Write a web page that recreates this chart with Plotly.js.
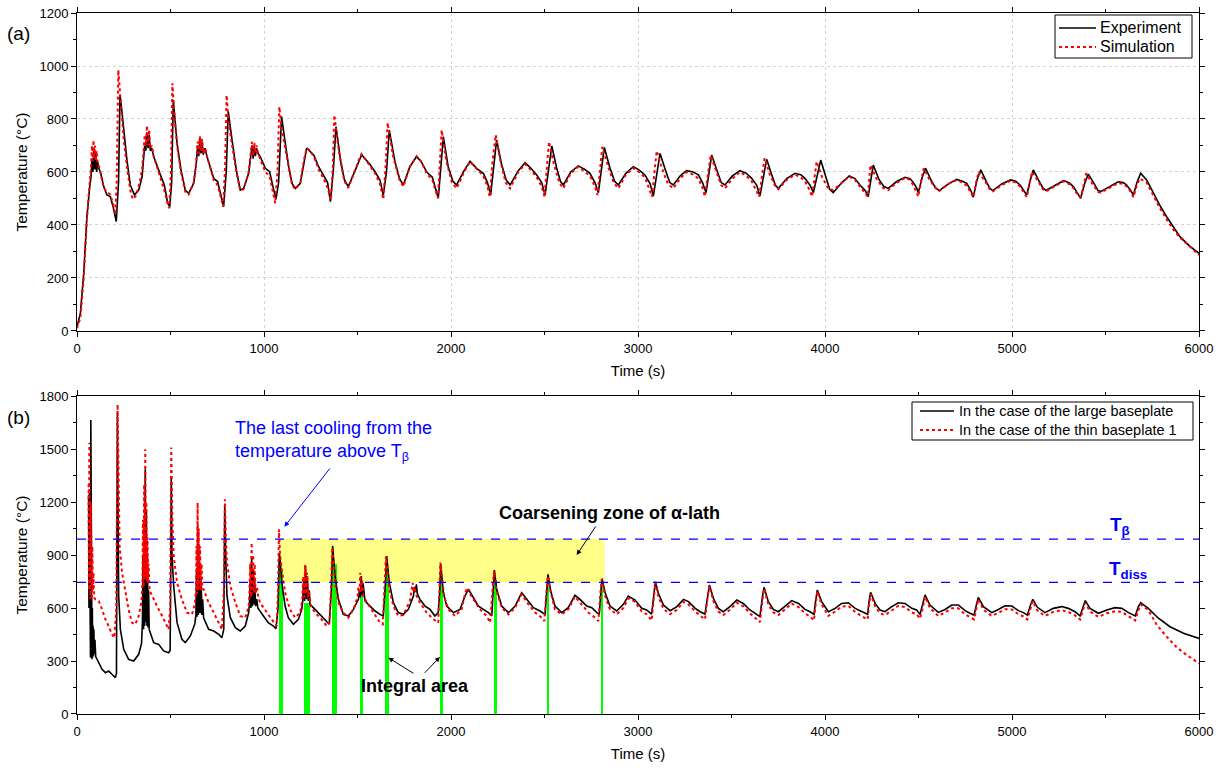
<!DOCTYPE html>
<html>
<head>
<meta charset="utf-8">
<script src="https://cdn.plot.ly/plotly-3.0.1.min.js"></script>
<style>html,body{margin:0;padding:0;background:#fff;}#chart{width:1225px;height:769px;}</style>
</head>
<body>
<div id="chart"></div>
<script>
// Panel (a): [time (s), temperature (°C)]
const expA = [[0,16],[18,67],[36,218],[53,431],[68,545],[75,582],
[80,650],[85,600],[90,690],[95,610],[100,670],[105,600],[110,640],[118,610],[125,601],
[143,545],[160,513],[178,507],[193,469],[210,413],[222,560],[230,891],[240,830],[250,758],[267,645],[285,551],[307,513],[330,532],[348,582],
[356,650],[362,700],[368,680],[374,750],[380,690],[386,740],[392,680],[400,690],[410,658],[428,620],[446,589],[467,551],[485,482],[496,469],[506,560],[515,872],[525,800],[535,708],[556,608],[579,532],[597,519],[624,557],[638,633],
[645,700],[651,660],[657,725],[663,670],[669,715],[675,665],[685,690],[695,658],[713,620],[731,576],[752,564],[770,507],[784,469],[798,600],[809,828],[829,721],[852,608],[873,532],[891,538],[918,595],
[930,660],[936,700],[942,650],[948,700],[954,660],[960,690],[968,670],[980,658],[1007,614],[1030,601],[1048,545],[1064,498],[1078,560],[1094,809],[1109,733],[1132,620],[1150,557],[1168,538],[1194,557],[1215,640],[1228,690],[1239,683],[1266,664],[1292,620],[1319,589],[1340,560],[1355,488],[1370,600],[1385,771],[1410,640],[1430,570],[1451,545],[1490,610],[1515,655],[1522,665],[1540,650],[1565,630],[1594,601],[1620,570],[1638,513],[1655,600],[1670,758],[1700,640],[1725,575],[1745,551],[1780,620],[1816,658],[1840,640],[1870,600],[1900,580],[1932,501],[1946,620],[1959,733],[1985,620],[2010,565],[2030,551],[2070,605],[2102,640],[2140,612],[2173,595],[2195,560],[2212,513],[2228,620],[2244,721],[2270,630],[2295,570],[2316,551],[2360,605],[2396,635],[2430,612],[2458,589],[2485,560],[2503,513],[2520,610],[2539,698],[2565,615],[2585,565],[2601,551],[2640,600],[2681,623],[2715,610],[2743,595],[2770,560],[2788,522],[2805,610],[2820,693],[2850,615],[2875,565],[2895,551],[2935,595],[2975,620],[3005,608],[3037,589],[3065,555],[3082,509],[3100,590],[3118,670],[3150,600],[3170,560],[3189,551],[3225,585],[3260,605],[3295,600],[3323,589],[3345,560],[3364,522],[3380,590],[3394,664],[3425,600],[3445,560],[3465,551],[3505,585],[3545,605],[3580,595],[3608,576],[3635,550],[3652,509],[3670,580],[3688,648],[3715,590],[3735,550],[3750,538],[3795,575],[3840,595],[3870,590],[3893,576],[3920,550],[3938,522],[3958,590],[3977,645],[4005,580],[4025,535],[4044,522],[4090,560],[4130,585],[4160,575],[4187,551],[4215,530],[4231,507],[4245,570],[4258,626],[4290,570],[4315,545],[4338,538],[4385,565],[4428,580],[4455,575],[4472,560],[4490,540],[4499,522],[4520,580],[4538,614],[4570,565],[4592,540],[4611,530],[4660,555],[4704,572],[4735,565],[4758,557],[4780,530],[4793,505],[4813,570],[4833,608],[4865,560],[4882,538],[4897,530],[4945,555],[4993,570],[5020,565],[5043,551],[5065,530],[5079,513],[5098,570],[5114,608],[5145,565],[5165,540],[5182,530],[5230,550],[5275,567],[5305,560],[5328,545],[5350,520],[5367,501],[5390,560],[5408,592],[5440,555],[5460,530],[5474,526],[5520,545],[5568,563],[5595,560],[5613,551],[5635,530],[5649,513],[5668,560],[5688,595],[5720,570],[5756,520],[5790,475],[5827,431],[5860,395],[5898,356],[5950,320],[6000,293]];

const simA = [[0,10],[18,50],[36,200],[53,420],[68,560],[75,620],[80,700],[84,640],[88,720],[92,650],[96,700],[100,640],[105,680],[110,630],[118,620],[125,600],[143,540],[160,525],[178,515],[193,480],[205,440],[212,560],[221,985],[230,900],[240,800],[250,720],[267,620],[285,530],[298,497],[315,510],[335,560],[348,610],[356,680],[362,740],[368,700],[374,775],[380,700],[386,760],[392,690],[400,700],[410,660],[428,620],[446,580],[467,530],[485,480],[494,463],[502,600],[510,935],[520,820],[535,700],[556,600],[579,525],[597,515],[624,560],[638,640],[645,715],[651,670],[657,735],[663,680],[669,725],[675,670],[685,690],[695,660],[713,615],[731,570],[752,550],[770,495],[782,470],[792,620],[800,890],[812,780],[829,700],[852,600],[873,530],[891,535],[918,600],[930,680],[936,715],[942,660],[948,710],[954,670],[960,700],[968,670],[980,650],[1007,600],[1030,585],[1048,530],[1060,482],[1072,600],[1082,846],[1095,760],[1115,680],[1132,610],[1150,550],[1168,535],[1194,560],[1215,650],[1228,690],[1239,685],[1266,660],[1292,610],[1319,575],[1340,540],[1358,494],[1368,620],[1376,815],[1400,680],[1430,565],[1451,540],[1490,615],[1515,660],[1522,668],[1540,650],[1565,625],[1594,595],[1620,555],[1638,497],[1650,620],[1661,786],[1690,660],[1725,570],[1745,545],[1780,620],[1816,660],[1840,640],[1870,595],[1900,570],[1930,501],[1940,640],[1950,758],[1975,640],[2005,560],[2030,538],[2070,600],[2102,639],[2140,610],[2173,585],[2195,545],[2207,507],[2222,640],[2239,740],[2265,640],[2292,560],[2316,538],[2360,600],[2396,630],[2430,605],[2458,580],[2485,545],[2500,507],[2512,620],[2524,714],[2550,630],[2580,558],[2601,538],[2640,595],[2681,620],[2715,600],[2743,585],[2770,545],[2783,513],[2797,610],[2809,695],[2840,620],[2870,560],[2895,538],[2935,590],[2975,615],[3005,600],[3037,580],[3060,540],[3075,507],[3088,600],[3100,680],[3130,610],[3160,555],[3189,538],[3225,575],[3260,600],[3295,590],[3323,575],[3345,540],[3357,507],[3372,590],[3389,664],[3420,600],[3445,550],[3465,538],[3505,575],[3545,600],[3580,585],[3608,565],[3630,535],[3648,507],[3662,580],[3677,652],[3705,590],[3735,545],[3750,535],[3795,570],[3840,590],[3870,580],[3893,565],[3915,535],[3931,507],[3945,590],[3955,639],[3985,580],[4020,535],[4044,532],[4090,560],[4130,583],[4160,570],[4187,545],[4215,520],[4228,507],[4236,570],[4243,626],[4275,575],[4310,540],[4338,532],[4385,560],[4428,578],[4455,570],[4472,550],[4490,525],[4499,507],[4515,570],[4528,614],[4560,570],[4590,540],[4611,528],[4660,555],[4704,570],[4735,560],[4758,548],[4780,520],[4793,505],[4808,560],[4822,601],[4855,565],[4882,535],[4897,527],[4945,550],[4993,568],[5020,560],[5043,545],[5065,520],[5079,505],[5095,560],[5107,601],[5140,565],[5165,535],[5182,527],[5230,545],[5275,565],[5305,555],[5328,540],[5350,515],[5367,505],[5385,555],[5397,595],[5430,555],[5460,525],[5474,522],[5520,540],[5568,558],[5595,555],[5613,545],[5635,525],[5649,505],[5668,550],[5683,576],[5720,560],[5756,511],[5790,465],[5827,421],[5860,385],[5898,352],[5950,318],[6000,287]];

// Panel (b): [time (s), temperature (°C)]
const largeB = [[62,1240],[64,600],[66,1250],[68,350],[70,1000],[72,320],[74,1664],[76,330],[78,900],[80,310],[82,600],[84,320],[86,500],[88,330],[90,480],[93,340],[96,420],[100,325],[107,309],[120,280],[134,253],[152,234],[169,243],[187,225],[205,206],[211,230],[214,1000],[216,1706],[219,1200],[223,668],[232,479],[250,366],[276,309],[303,300],[330,338],[345,400],
[350,520],[353,900],[356,480],[359,1100],[362,500],[365,1385],[368,520],[371,1150],[374,500],[377,900],[380,490],[383,700],[386,479],
[395,450],[410,404],[437,394],[463,357],[490,347],[498,360],[502,900],[504,1347],[508,900],[517,725],[535,517],[561,423],[579,404],[606,442],[630,510],
[636,560],[639,800],[642,550],[645,1064],[648,560],[651,950],[654,570],[657,850],[660,570],[664,750],[668,560],[672,650],[677,545],
[704,479],[731,470],[758,451],[775,432],[785,480],[790,1177],[795,900],[802,668],[820,545],[847,489],[873,470],[900,498],[918,574],
[922,620],[926,750],[930,600],[934,894],[938,610],[942,820],[946,620],[950,760],[955,610],[961,650],[967,600],
[997,555],[1023,517],[1050,498],[1064,483],[1075,600],[1082,913],[1088,850],[1095,743],[1113,611],[1130,545],[1157,508],[1184,536],[1202,592],
[1207,640],[1212,760],[1217,640],[1222,838],[1227,650],[1232,780],[1237,640],[1242,700],[1246,621],
[1273,592],[1300,564],[1326,536],[1349,508],[1360,700],[1367,951],[1380,781],[1398,649],[1424,564],[1451,555],[1478,592],[1505,649],
[1510,700],[1515,660],[1520,781],[1525,670],[1530,740],[1535,660],
[1540,640],[1567,611],[1594,583],[1620,564],[1638,555],[1650,750],[1656,894],[1670,743],[1692,630],[1718,574],[1745,564],[1772,592],[1799,668],[1805,720],[1810,690],[1815,734],[1820,680],[1834,649],[1861,611],[1888,592],[1914,555],[1932,574],[1940,700],[1945,847],[1959,687],[1977,611],[2013,574],[2048,592],[2075,668],[2093,706],[2120,658],[2147,611],[2173,592],[2200,574],[2218,555],[2226,700],[2232,815],[2244,706],[2271,611],[2307,574],[2343,611],[2378,687],[2405,649],[2441,602],[2476,583],[2503,564],[2512,700],[2519,791],[2533,696],[2556,611],[2592,574],[2627,602],[2663,672],[2690,649],[2726,611],[2753,602],[2780,574],[2793,564],[2802,700],[2808,766],[2824,687],[2850,611],[2886,583],[2922,621],[2948,668],[2984,645],[3020,598],[3046,589],[3073,566],[3085,680],[3093,749],[3109,683],[3136,617],[3172,585],[3208,608],[3243,649],[3270,636],[3306,598],[3332,579],[3358,566],[3372,680],[3382,730],[3403,655],[3430,598],[3456,579],[3492,608],[3528,645],[3563,626],[3599,589],[3626,570],[3652,551],[3665,660],[3674,717],[3697,636],[3724,592],[3751,579],[3786,608],[3822,642],[3858,626],[3893,592],[3920,579],[3941,564],[3950,640],[3959,702],[3982,636],[4018,579],[4054,598],[4089,626],[4125,630],[4161,598],[4187,585],[4214,570],[4228,565],[4236,640],[4244,689],[4268,626],[4294,589],[4321,579],[4357,608],[4392,630],[4428,626],[4464,598],[4490,589],[4508,564],[4525,630],[4535,674],[4561,617],[4606,575],[4642,592],[4678,617],[4713,617],[4749,585],[4775,570],[4797,560],[4810,620],[4820,660],[4847,608],[4892,574],[4927,592],[4963,613],[4999,611],[5034,585],[5061,574],[5082,560],[5100,620],[5111,649],[5136,604],[5176,574],[5221,598],[5266,608],[5301,598],[5337,579],[5364,555],[5380,610],[5392,642],[5417,598],[5462,570],[5507,589],[5551,602],[5587,598],[5623,574],[5659,555],[5675,605],[5688,630],[5729,598],[5783,542],[5845,494],[5917,457],[6000,428]];

const thinB = [[62,1300],[64,700],[66,1536],[68,800],[70,1300],[72,650],[74,1200],[76,700],[78,1100],[80,650],[82,950],[85,700],[88,800],[92,660],[98,649],[116,640],[134,592],[152,536],[169,498],[187,451],[200,432],[210,600],[217,1753],[222,1200],[228,951],[241,800],[258,687],[276,592],[294,517],[312,508],[330,555],[345,640],
[350,750],[353,1100],[356,720],[359,1300],[362,760],[365,1498],[368,780],[371,1200],[374,750],[377,1000],[380,740],[383,850],
[388,700],[401,668],[428,611],[455,555],[472,517],[490,479],[498,600],[504,1508],[510,1100],[517,894],[535,743],[561,649],[588,574],[615,564],[630,620],
[636,700],[639,950],[642,680],[645,1196],[648,700],[651,1050],[654,700],[658,950],[662,700],[666,850],[670,710],[677,706],
[704,630],[731,574],[758,517],[775,479],[785,700],[791,1215],[796,1000],[802,857],[820,725],[847,630],[873,555],[900,545],[918,611],
[922,680],[926,850],[930,660],[934,970],[938,680],[942,900],[946,690],[950,850],[955,680],[962,720],[970,660],
[979,630],[1014,574],[1041,536],[1068,498],[1075,700],[1080,1045],[1086,900],[1095,819],[1113,687],[1139,592],[1166,545],[1193,574],
[1205,650],[1210,780],[1215,660],[1220,847],[1225,680],[1230,800],[1235,660],[1240,700],
[1250,610],[1273,574],[1308,536],[1335,498],[1350,520],[1358,700],[1365,942],[1380,743],[1398,630],[1424,574],[1451,545],[1478,592],
[1500,660],[1505,720],[1510,680],[1515,800],[1520,690],[1525,760],[1530,670],
[1540,649],[1567,602],[1594,555],[1620,517],[1635,508],[1645,700],[1652,891],[1670,706],[1692,611],[1718,555],[1745,560],[1780,640],[1790,700],[1795,743],[1800,690],[1805,720],[1815,670],[1834,630],[1870,574],[1906,536],[1932,517],[1938,700],[1943,857],[1963,668],[1986,592],[2021,555],[2057,592],[2075,680],[2085,715],[2095,690],[2120,649],[2155,592],[2191,555],[2209,517],[2222,700],[2230,809],[2244,700],[2271,602],[2307,564],[2343,602],[2378,677],[2414,621],[2450,574],[2485,545],[2499,526],[2510,700],[2517,781],[2533,690],[2556,592],[2592,564],[2627,592],[2663,665],[2699,621],[2735,574],[2771,545],[2788,526],[2800,700],[2806,762],[2824,668],[2850,592],[2886,564],[2922,600],[2948,655],[2984,635],[3020,580],[3046,565],[3073,530],[3085,670],[3093,745],[3109,665],[3136,595],[3172,565],[3208,590],[3243,635],[3270,620],[3306,580],[3332,555],[3358,535],[3372,660],[3382,725],[3403,640],[3430,580],[3456,560],[3492,590],[3528,630],[3563,610],[3599,570],[3626,545],[3652,520],[3665,640],[3674,710],[3697,620],[3724,575],[3751,560],[3786,590],[3822,625],[3858,605],[3893,570],[3920,550],[3941,530],[3950,620],[3959,695],[3982,620],[4018,555],[4054,580],[4089,608],[4125,612],[4161,578],[4187,560],[4214,545],[4228,535],[4236,620],[4244,680],[4268,610],[4294,570],[4321,560],[4357,588],[4392,612],[4428,605],[4464,575],[4490,565],[4508,540],[4525,610],[4535,665],[4561,600],[4606,555],[4642,575],[4678,598],[4713,598],[4749,565],[4775,548],[4797,535],[4810,600],[4820,650],[4847,590],[4892,555],[4927,572],[4963,593],[4999,592],[5034,565],[5061,552],[5082,535],[5100,600],[5111,640],[5136,585],[5176,555],[5221,578],[5266,588],[5301,578],[5337,558],[5364,535],[5380,590],[5392,630],[5417,580],[5462,550],[5507,570],[5551,582],[5587,578],[5623,555],[5659,530],[5675,585],[5688,620],[5729,589],[5774,504],[5827,438],[5881,377],[5934,334],[6000,287]];

// Integral-area bars
const intTimes   = [1090, 1230, 1377, 1520, 1660, 1950, 2236, 2519, 2808];
const intWidths  = [18, 32, 25, 15, 21, 18, 16, 14, 10];
const intHeights = [820, 630, 850, 668, 820, 780, 760, 740, 730];

// Reference temperatures and coarsening zone
const tBeta = 990;
const tDiss = 745;
const zoneStart = 1086;
const zoneEnd = 2822;

// Legend labels
const legendA = ['Experiment', 'Simulation'];
const legendB = ['In the case of the large baseplate', 'In the case of the thin baseplate 1'];

const xs = a => a.map(p => p[0]);
const ys = a => a.map(p => p[1]);

const FONT = 'Arial, "Liberation Sans", sans-serif';

const traces = [
  {x: xs(expA), y: ys(expA), type: 'scatter', mode: 'lines', name: legendA[0],
   line: {color: '#000', width: 1.6}, xaxis: 'x', yaxis: 'y', showlegend: false},
  {x: xs(simA), y: ys(simA), type: 'scatter', mode: 'lines', name: legendA[1],
   line: {color: '#ff0000', width: 2, dash: 'dot'}, xaxis: 'x', yaxis: 'y', showlegend: false},
  {x: intTimes, y: intHeights, width: intWidths, type: 'bar', marker: {color: '#00ff00', line: {width: 0}},
   xaxis: 'x2', yaxis: 'y2', showlegend: false, hoverinfo: 'skip'},
  {x: xs(largeB), y: ys(largeB), type: 'scatter', mode: 'lines', name: legendB[0],
   line: {color: '#000', width: 1.6}, xaxis: 'x2', yaxis: 'y2', showlegend: false},
  {x: xs(thinB), y: ys(thinB), type: 'scatter', mode: 'lines', name: legendB[1],
   line: {color: '#ff0000', width: 2, dash: 'dot'}, xaxis: 'x2', yaxis: 'y2', showlegend: false}
];

const axCommon = {
  showline: true, linecolor: '#000', linewidth: 1, mirror: 'ticks',
  ticks: 'outside', ticklen: 5, tickcolor: '#000', tickwidth: 1,
  tickfont: {family: FONT, size: 13, color: '#000'},
  zeroline: false
};

// helpers for paper coordinates from pixel positions of the plot frame
const PX0 = 77, PW = 1122, PY0 = 13, PH = 701;
const px = v => (v - PX0) / PW;
const py = v => 1 - (v - PY0) / PH;

function legendBox(x0, x1, y0, y1, rows, labels, fontSize, sx0, sx1, tx) {
  const shapes = [{type: 'rect', xref: 'paper', yref: 'paper', x0: px(x0), x1: px(x1), y0: py(y1), y1: py(y0),
    fillcolor: '#fff', line: {color: '#000', width: 1}, layer: 'above'}];
  const styles = [{color: '#000', width: 1.6}, {color: '#ff0000', width: 2, dash: 'dot'}];
  const ann = [];
  rows.forEach((r, i) => {
    shapes.push({type: 'line', xref: 'paper', yref: 'paper', x0: px(sx0), x1: px(sx1), y0: py(r), y1: py(r), line: styles[i], layer: 'above'});
    ann.push({xref: 'paper', yref: 'paper', x: px(tx), y: py(r), xanchor: 'left', yanchor: 'middle', text: labels[i],
      showarrow: false, font: {family: FONT, size: fontSize, color: '#000'}});
  });
  return {shapes, ann};
}

const legA = legendBox(1055, 1192, 15, 58, [28, 47], legendA, 16, 1059, 1096, 1098);
const legB = legendBox(912, 1193, 402, 440, [411, 430], legendB, 14.5, 920, 954, 957);

const layout = {
  width: 1225, height: 769,
  margin: {l: 77, r: 26, t: 13, b: 55},
  paper_bgcolor: '#fff', plot_bgcolor: '#fff',
  font: {family: FONT, color: '#000'},
  bargap: 0,
  showlegend: false,
  xaxis: Object.assign({}, axCommon, {
    domain: [0, 1], anchor: 'y', range: [0, 6000], dtick: 1000, tick0: 0,
    showgrid: true, gridcolor: '#d4d4d4', griddash: 'dot', gridwidth: 1,
    minor: {dtick: 500, ticks: 'outside', ticklen: 3, tickcolor: '#000', showgrid: false},
    title: {text: 'Time (s)', font: {family: FONT, size: 15}, standoff: 10}
  }),
  yaxis: Object.assign({}, axCommon, {
    domain: [0.5464, 1], anchor: 'x', range: [0, 1200], dtick: 200, tick0: 0,
    showgrid: true, gridcolor: '#d4d4d4', griddash: 'dot', gridwidth: 1,
    minor: {dtick: 100, ticks: 'outside', ticklen: 3, tickcolor: '#000', showgrid: false},
    title: {text: 'Temperature (°C)', font: {family: FONT, size: 15.5}, standoff: 8}
  }),
  xaxis2: Object.assign({}, axCommon, {
    domain: [0, 1], anchor: 'y2', range: [0, 6000], dtick: 1000, tick0: 0,
    showgrid: false,
    minor: {dtick: 500, ticks: 'outside', ticklen: 3, tickcolor: '#000', showgrid: false},
    title: {text: 'Time (s)', font: {family: FONT, size: 15}, standoff: 10}
  }),
  yaxis2: Object.assign({}, axCommon, {
    domain: [0, 0.4536], anchor: 'x2', range: [0, 1800], dtick: 300, tick0: 0,
    showgrid: false,
    minor: {dtick: 150, ticks: 'outside', ticklen: 3, tickcolor: '#000', showgrid: false},
    title: {text: 'Temperature (°C)', font: {family: FONT, size: 15.5}, standoff: 8}
  }),
  shapes: [
    {type: 'rect', xref: 'x2', yref: 'y2', x0: zoneStart, x1: zoneEnd, y0: tDiss, y1: tBeta,
     fillcolor: '#ffff88', line: {width: 0}, layer: 'below'},
    {type: 'line', xref: 'x2', yref: 'y2', x0: 0, x1: 6000, y0: tBeta, y1: tBeta,
     line: {color: '#0000ff', width: 1.2, dash: 'dash'}},
    {type: 'line', xref: 'x2', yref: 'y2', x0: 0, x1: 6000, y0: tDiss, y1: tDiss,
     line: {color: '#0000ff', width: 1.2, dash: 'dash'}}
  ].concat(legA.shapes, legB.shapes),
  annotations: [
    {xref: 'paper', yref: 'paper', x: px(18), y: py(33), xanchor: 'center', yanchor: 'middle', text: '(a)', showarrow: false,
     font: {family: FONT, size: 19, color: '#000'}},
    {xref: 'paper', yref: 'paper', x: px(18), y: py(417), xanchor: 'center', yanchor: 'middle', text: '(b)', showarrow: false,
     font: {family: FONT, size: 19, color: '#000'}},
    {xref: 'x2', yref: 'y2', x: 1369, y: 1545, text: 'The last cooling from the<br>temperature above T<sub>β</sub>',
     showarrow: false, align: 'left', font: {family: FONT, size: 18, color: '#0000ff'}},
    {xref: 'x2', yref: 'y2', x: 1109, y: 1060, axref: 'x2', ayref: 'y2', ax: 1358, ay: 1398, text: '',
     showarrow: true, arrowhead: 2, arrowsize: 1, arrowwidth: 1, arrowcolor: '#0000ff'},
    {xref: 'x2', yref: 'y2', x: 2850, y: 1138, text: '<b>Coarsening zone of α-lath</b>',
     showarrow: false, font: {family: FONT, size: 18, color: '#000'}},
    {xref: 'x2', yref: 'y2', x: 2672, y: 900, axref: 'x2', ayref: 'y2', ax: 2779, ay: 1070, text: '',
     showarrow: true, arrowhead: 2, arrowsize: 1, arrowwidth: 1, arrowcolor: '#000'},
    {xref: 'x2', yref: 'y2', x: 1807, y: 158, text: '<b>Integral area</b>',
     showarrow: false, font: {family: FONT, size: 18, color: '#000'}},
    {xref: 'x2', yref: 'y2', x: 1665, y: 319, axref: 'x2', ayref: 'y2', ax: 1807, ay: 225, text: '',
     showarrow: true, arrowhead: 2, arrowsize: 1, arrowwidth: 1, arrowcolor: '#000'},
    {xref: 'x2', yref: 'y2', x: 1941, y: 323, axref: 'x2', ayref: 'y2', ax: 1852, ay: 225, text: '',
     showarrow: true, arrowhead: 2, arrowsize: 1, arrowwidth: 1, arrowcolor: '#000'},
    {xref: 'x2', yref: 'y2', x: 5578, y: 1064, text: '<b>T<sub>β</sub></b>',
     showarrow: false, font: {family: FONT, size: 19, color: '#0000ff'}},
    {xref: 'x2', yref: 'y2', x: 5620, y: 815, text: '<b>T<sub>diss</sub></b>',
     showarrow: false, font: {family: FONT, size: 19, color: '#0000ff'}}
  ].concat(legA.ann, legB.ann)
};

Plotly.newPlot('chart', traces, layout, {displayModeBar: false, staticPlot: true});
</script>
</body>
</html>
